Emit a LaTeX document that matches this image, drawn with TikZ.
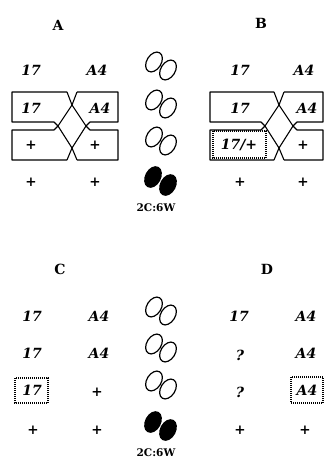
\documentclass[tikz,border=0pt]{standalone}
\usepackage{fontspec}
\setmainfont{DejaVu Serif}
\usepackage{tikz}
\newcommand{\ribbonshape}[3]{%
  \draw[rib] ({#2-5},92) -- (#1,92) -- (#1,122) -- ({#2-18},122) -- ({#2-14},126) -- ({#2-18},130) -- (#1,130) -- (#1,160) -- ({#2-5},160);
  \draw[rib] ({#2+5},92) -- (#3,92) -- (#3,122) -- ({#2+18},122) -- ({#2+14},126) -- ({#2+18},130) -- (#3,130) -- (#3,160) -- ({#2+5},160);
  \draw[rib] ({#2-5},92) -- (#2,105) -- ({#2+14},126) -- (#2,148) -- ({#2-5},160);
  \draw[rib] ({#2+5},92) -- (#2,105) -- ({#2-14},126) -- (#2,148) -- ({#2+5},160);
}
\newcommand{\ovalpair}[1]{%
  \draw[ov,shift={(154,#1-4)},rotate=58] (0,0) ellipse [x radius=10.8,y radius=7.2];
  \draw[ov,shift={(168,#1+4)},rotate=58] (0,0) ellipse [x radius=10.8,y radius=7.2];
}
\newcommand{\blobpair}[1]{%
  \fill[shift={(153,#1-4)},rotate=62] (0,0) ellipse [x radius=11.5,y radius=8];
  \fill[shift={(168,#1+4)},rotate=62] (0,0) ellipse [x radius=11.5,y radius=8];
}
\tikzset{
  lab/.style={font=\fontsize{14}{16}\selectfont\bfseries, inner sep=0pt},
  al/.style={font=\fontsize{14}{16}\selectfont\bfseries\itshape, inner sep=0pt},
  pl/.style={font=\fontsize{13.5}{16}\selectfont\bfseries, inner sep=0pt},
  ratio/.style={font=\fontsize{10.5}{13}\selectfont\bfseries, inner sep=0pt},
  rib/.style={line width=1.1pt, line join=round},
  dotbox/.style={dash pattern=on 1pt off 1pt, line width=1.1pt},
  ov/.style={line width=1.2pt},
}
\begin{document}
\begin{tikzpicture}[x=1pt,y=-1pt]
\useasboundingbox (0,0) rectangle (325,463);
% ---------- Panel A ----------
\node[lab] (labA) at (58,25) {A};
\node[al] (a11) at (31,70) {17};
\node[al] (a12) at (97,70) {A4};
\ribbonshape{12}{72}{118}
\node[al] (a21) at (31,108) {17};
\node[al] (a22) at (100,108) {A4};
\node[pl] (a31) at (31,145) {+};
\node[pl] (a32) at (95,145) {+};
\node[pl] (a41) at (31,182) {+};
\node[pl] (a42) at (95,182) {+};
% ---------- Panel B ----------
\node[lab] (labB) at (261,23) {B};
\node[al] (b11) at (240,70) {17};
\node[al] (b12) at (304,70) {A4};
\ribbonshape{210}{279}{323}
\node[al] (b21) at (240,108) {17};
\node[al] (b22) at (307,108) {A4};
\draw[dotbox] (213,131) rectangle (266,158);
\node[al] (b31) at (239,145) {17/+};
\node[pl] (b32) at (303,145) {+};
\node[pl] (b41) at (240,182) {+};
\node[pl] (b42) at (303,182) {+};
% ---------- ovals top ----------
\ovalpair{66}
\ovalpair{104}
\ovalpair{141}
\blobpair{181}
\node[ratio] (rTop) at (156,208) {2C:6W};
% ---------- Panel C ----------
\node[lab] (labC) at (60,269) {C};
\node[al] (c11) at (32,316) {17};
\node[al] (c12) at (99,316) {A4};
\node[al] (c21) at (32,353) {17};
\node[al] (c22) at (99,353) {A4};
\draw[dotbox] (15,378) rectangle (48,403);
\node[al] (c31) at (32,390) {17};
\node[pl] (c32) at (97,392) {+};
\node[pl] (c41) at (33,430) {+};
\node[pl] (c42) at (97,430) {+};
% ---------- Panel D ----------
\node[lab] (labD) at (267,269) {D};
\node[al] (d11) at (239,316) {17};
\node[al] (d12) at (306,316) {A4};
\node[al] (d21) at (240,355) {?};
\node[al] (d22) at (306,353) {A4};
\node[al] (d31) at (240,392) {?};
\draw[dotbox] (291,377) rectangle (323,403);
\node[al] (d32) at (307,390) {A4};
\node[pl] (d41) at (240,430) {+};
\node[pl] (d42) at (305,430) {+};
% ---------- ovals bottom ----------
\ovalpair{311}
\ovalpair{348}
\ovalpair{385}
\blobpair{426}
\node[ratio] (rBot) at (156,453) {2C:6W};
\end{tikzpicture}
\end{document}
